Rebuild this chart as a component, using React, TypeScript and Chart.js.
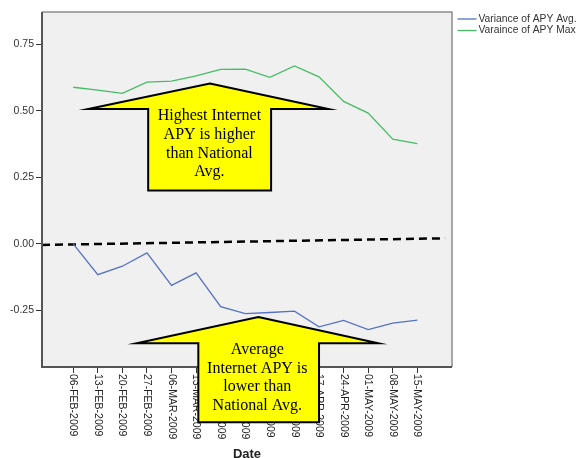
import React, { useEffect, useRef } from "react";
import { Chart, registerables } from "chart.js";

Chart.register(...registerables);

const categories = [
  "06-FEB-2009", "13-FEB-2009", "20-FEB-2009", "27-FEB-2009", "06-MAR-2009",
  "13-MAR-2009", "20-MAR-2009", "27-MAR-2009", "03-APR-2009", "10-APR-2009",
  "17-APR-2009", "24-APR-2009", "01-MAY-2009", "08-MAY-2009", "15-MAY-2009",
];
const varianceAvg = [0.0, -0.116, -0.084, -0.034, -0.156, -0.109, -0.236, -0.262, -0.258, -0.253, -0.312, -0.288, -0.322, -0.298, -0.287];
const varianceMax = [0.589, 0.578, 0.566, 0.608, 0.612, 0.632, 0.656, 0.657, 0.626, 0.669, 0.628, 0.536, 0.492, 0.394, 0.377];
const yTicks = [-0.25, 0, 0.25, 0.5, 0.75];
const seriesNames = ["Variance of APY Avg.", "Varaince of APY Max"];
const refLineX = [-1.27, 15.13];
const refLineY = [-0.004, 0.021];

const BLUE = "#5572C2";
const GREEN = "#46BC64";

// annotation arrows in data units (x: category index, y: value)
const arrowUp = {
  tip: [5.56, 0.603], wingY: 0.507, wingL: 0.61, wingR: 10.38,
  shaftL: 3.05, shaftR: 8.05, end: 0.201,
  lines: ["Highest Internet", "APY is higher", "than National", "Avg."],
  textX: 5.54, textY: [0.465, 0.393, 0.322, 0.254],
};
const arrowDown = {
  tip: [7.53, -0.275], wingY: -0.374, wingL: 2.58, wingR: 12.41,
  shaftL: 5.09, shaftR: 10.0, end: -0.671,
  lines: ["Average", "Internet APY is", "lower than", "National Avg."],
  textX: 7.49, textY: [-0.415, -0.485, -0.554, -0.623],
};

function drawArrow(chart: any, a: any) {
  const { ctx, scales } = chart;
  const X = (v: number) => scales.x.getPixelForValue(v);
  const Y = (v: number) => scales.y.getPixelForValue(v);
  ctx.save();
  ctx.beginPath();
  ctx.moveTo(X(a.tip[0]), Y(a.tip[1]));
  ctx.lineTo(X(a.wingR), Y(a.wingY));
  ctx.lineTo(X(a.shaftR), Y(a.wingY));
  ctx.lineTo(X(a.shaftR), Y(a.end));
  ctx.lineTo(X(a.shaftL), Y(a.end));
  ctx.lineTo(X(a.shaftL), Y(a.wingY));
  ctx.lineTo(X(a.wingL), Y(a.wingY));
  ctx.closePath();
  ctx.fillStyle = "#FFFF00";
  ctx.fill();
  ctx.lineWidth = 2;
  ctx.lineJoin = "miter";
  ctx.strokeStyle = "#000";
  ctx.stroke();
  ctx.fillStyle = "#000";
  ctx.font = '16px "Liberation Serif", "Times New Roman", serif';
  ctx.textAlign = "center";
  ctx.textBaseline = "alphabetic";
  a.lines.forEach((t: string, i: number) => {
    ctx.fillText(t, X(a.textX), Y(a.textY[i]));
  });
  ctx.restore();
}

const decorPlugin = {
  id: "decor",
  beforeDraw(chart: any) {
    const { ctx, chartArea: ca, width, height } = chart;
    ctx.save();
    ctx.fillStyle = "#fff";
    ctx.fillRect(0, 0, width, height);
    ctx.fillStyle = "#F0F0F0";
    ctx.fillRect(ca.left, ca.top, ca.right - ca.left, ca.bottom - ca.top);
    ctx.restore();
  },
  afterDatasetsDraw(chart: any) {
    const { ctx, chartArea: ca } = chart;
    ctx.save();
    ctx.strokeStyle = "#8C8C8C";
    ctx.lineWidth = 1.5;
    ctx.beginPath();
    ctx.moveTo(ca.left, ca.top);
    ctx.lineTo(ca.right, ca.top);
    ctx.lineTo(ca.right, ca.bottom);
    ctx.stroke();
    ctx.strokeStyle = "#555";
    ctx.lineWidth = 2;
    ctx.beginPath();
    ctx.moveTo(ca.left, ca.top);
    ctx.lineTo(ca.left, ca.bottom);
    ctx.lineTo(ca.right, ca.bottom);
    ctx.stroke();
    ctx.restore();
  },
  afterDraw(chart: any) {
    const { ctx, chartArea: ca, scales } = chart;
    // rotated x labels (top to bottom)
    ctx.save();
    ctx.fillStyle = "#222";
    ctx.font = '10.5px "Liberation Sans", Arial, sans-serif';
    ctx.textAlign = "left";
    ctx.textBaseline = "middle";
    categories.forEach((c, i) => {
      const x = scales.x.getPixelForValue(i);
      ctx.save();
      ctx.translate(x, ca.bottom + 7);
      ctx.rotate(Math.PI / 2);
      ctx.fillText(c, 0, 0);
      ctx.restore();
    });
    // axis title
    ctx.font = 'bold 13px "Liberation Sans", Arial, sans-serif';
    ctx.textAlign = "center";
    ctx.textBaseline = "top";
    ctx.fillText("Date", (ca.left + ca.right) / 2, 448);
    ctx.restore();

    drawArrow(chart, arrowUp);
    drawArrow(chart, arrowDown);

    // legend
    ctx.save();
    ctx.font = '10.3px "Liberation Sans", Arial, sans-serif';
    ctx.textAlign = "left";
    ctx.textBaseline = "middle";
    const colors = [BLUE, GREEN];
    const ys = [19, 30.5];
    seriesNames.forEach((n, i) => {
      ctx.strokeStyle = colors[i];
      ctx.lineWidth = 1.3;
      ctx.beginPath();
      ctx.moveTo(457.5, ys[i]);
      ctx.lineTo(476.5, ys[i]);
      ctx.stroke();
      ctx.fillStyle = "#333";
      ctx.fillText(n, 478.5, ys[i]);
    });
    ctx.restore();
  },
};

export default function App() {
  const ref = useRef<HTMLCanvasElement | null>(null);
  useEffect(() => {
    if (!ref.current) return;
    const chart = new Chart(ref.current, {
      type: "line",
      data: {
        datasets: [
          {
            label: seriesNames[0],
            data: varianceAvg.map((y, i) => ({ x: i, y })),
            borderColor: BLUE,
            borderWidth: 1.3,
            pointRadius: 0,
            tension: 0,
          },
          {
            label: seriesNames[1],
            data: varianceMax.map((y, i) => ({ x: i, y })),
            borderColor: GREEN,
            borderWidth: 1.3,
            pointRadius: 0,
            tension: 0,
          },
          {
            label: "reference",
            data: refLineX.map((x, i) => ({ x, y: refLineY[i] })),
            borderColor: "#000",
            borderWidth: 2.5,
            borderDash: [8, 5],
            pointRadius: 0,
          },
        ],
      },
      options: {
        animation: false,
        responsive: false,
        devicePixelRatio: 1,
        layout: { padding: { top: 12, right: 135, left: 0, bottom: 0 } },
        plugins: { legend: { display: false }, tooltip: { enabled: false } },
        scales: {
          x: {
            type: "linear",
            min: -1.27,
            max: 15.41,
            border: { display: false },
            grid: { drawOnChartArea: false, drawTicks: true, tickLength: 6, color: "#333" },
            ticks: { callback: () => "", autoSkip: false },
            afterBuildTicks: (axis: any) => {
              axis.ticks = categories.map((_, i) => ({ value: i }));
            },
            afterFit: (axis: any) => {
              axis.height = 91;
            },
          },
          y: {
            type: "linear",
            min: -0.463,
            max: 0.872,
            border: { display: false },
            grid: { drawOnChartArea: false, drawTicks: true, tickLength: 6, color: "#333" },
            ticks: {
              autoSkip: false,
              padding: 2,
              color: "#333",
              font: { family: '"Liberation Sans", Arial, sans-serif', size: 10.5 },
              callback: (v: any) => Number(v).toFixed(2),
            },
            afterBuildTicks: (axis: any) => {
              axis.ticks = yTicks.map((v) => ({ value: v }));
            },
            afterFit: (axis: any) => {
              axis.width = 42;
            },
          },
        },
      },
      plugins: [decorPlugin],
    });
    return () => chart.destroy();
  }, []);
  return (
    <div style={{ position: "absolute", left: 0, top: 0, width: 587, height: 458 }}>
      <canvas ref={ref} width={587} height={458} />
    </div>
  );
}
